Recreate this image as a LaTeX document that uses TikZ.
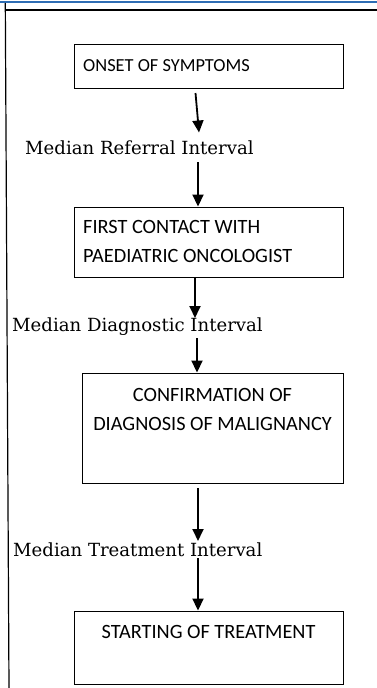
\documentclass[tikz,border=0pt]{standalone}
\usepackage{fontspec}
\setmainfont{Carlito}
\newfontfamily\labelfont{DejaVu Serif}
\usetikzlibrary{arrows.meta}
\definecolor{wordblue}{HTML}{2E6DB4}
\tikzset{
  boxnode/.style={draw=black, line width=0.9pt, inner sep=0pt, minimum width=#1},
  boxtext/.style={inner sep=0pt, font=\fontsize{20.3}{24}\selectfont},
  smallboxtext/.style={inner sep=0pt, font=\fontsize{18.4}{22}\selectfont},
  intlabel/.style={inner sep=0pt, font=\labelfont\fontsize{18.1}{21}\selectfont},
  flowarrow/.style={line width=1.8pt, -{Triangle[length=12pt,width=11pt]}, shorten >=0pt},
}
\begin{document}
\begin{tikzpicture}[x=1pt,y=-1pt]
\useasboundingbox (0,0) rectangle (377,688);
% page decoration
\fill[wordblue] (0,0.7) rectangle (377,3.2);
\draw[line width=1.1pt] (6,10) -- (377,10);
\draw[line width=1.2pt] (5.3,3) -- (9,688);
% boxes
\node[boxnode=269pt, minimum height=44pt] (b1) at (208.5,66) {};
\node[boxnode=269pt, minimum height=70pt] (b2) at (208.5,242) {};
\node[boxnode=261pt, minimum height=110pt] (b3) at (212.5,428) {};
\node[boxnode=269pt, minimum height=73pt] (b4) at (208.5,647.5) {};
% box texts
\node[smallboxtext, anchor=base west] (t1) at (83,71) {ONSET OF SYMPTOMS};
\node[boxtext, anchor=base west] (t2a) at (83,233.3) {FIRST CONTACT WITH};
\node[boxtext, anchor=base west] (t2b) at (83,262.7) {PAEDIATRIC ONCOLOGIST};
\node[boxtext, anchor=base] (t3a) at (212.5,401.7) {CONFIRMATION OF};
\node[boxtext, anchor=base] (t3b) at (212.5,430) {DIAGNOSIS OF MALIGNANCY};
\node[boxtext, anchor=base] (t4) at (208.5,638.3) {STARTING OF TREATMENT};
% interval labels
\node[intlabel, anchor=base west] (l1) at (25,154) {Median Referral Interval};
\node[intlabel, anchor=base west] (l2) at (12,331.7) {Median Diagnostic Interval};
\node[intlabel, anchor=base west] (l3) at (13,556) {Median Treatment Interval};
% arrow end points
\coordinate (a1s) at (195.5,93);
\coordinate (a1e) at (199,132.5);
\coordinate (a2s) at (198,162);
\coordinate (a3s) at (195,277);
\coordinate (a3e) at (195,318);
\coordinate (a4s) at (197,338);
\coordinate (a5s) at (198,488);
\coordinate (a5e) at (198,541);
\coordinate (a6s) at (198,558);
% arrows
\draw[flowarrow] (a1s) -- (a1e);
\draw[flowarrow] (a2s) -- (a2s |- b2.north);
\draw[flowarrow] (a3s |- b2.south) -- (a3e);
\draw[flowarrow] (a4s) -- (a4s |- b3.north);
\draw[flowarrow] (a5s) -- (a5e);
\draw[flowarrow] (a6s) -- (a6s |- b4.north);
\end{tikzpicture}
\end{document}
